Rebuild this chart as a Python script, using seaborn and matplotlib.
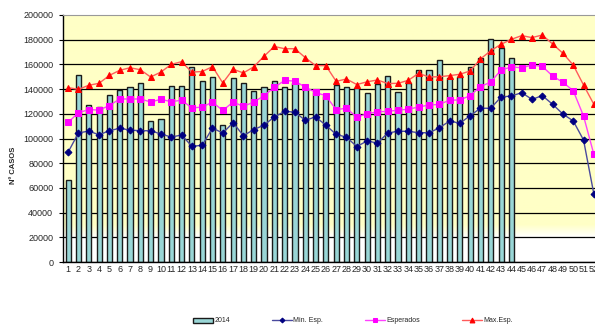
import numpy as np
import pandas as pd
import matplotlib
matplotlib.use('Agg')
import matplotlib.pyplot as plt
import seaborn as sns
from matplotlib.colors import LinearSegmentedColormap

# weekly values
weeks = list(range(1, 53))
cases_2014 = [66000, 151500, 127000, 125500, 135500, 139600, 141500, 144700, 114500, 115500,
              142500, 142500, 157800, 146500, 150000, 111000, 148700, 144700, 138200, 141300,
              146800, 141400, 145000, 139800, 137500, 134300, 143000, 141400, 141100, 136500,
              144000, 150800, 137500, 145000, 155800, 155800, 163500, 149000, 150200, 157800,
              165000, 180300, 173000, 165000]
min_esp = [89000, 104500, 106000, 103000, 106300, 108300, 106800, 106300, 106300, 103600,
           101200, 102800, 93800, 94400, 108500, 104400, 112800, 102300, 107200, 110800,
           117500, 121900, 121400, 114700, 117500, 110800, 103300, 101100, 93500, 98000,
           96300, 104400, 105900, 105800, 104700, 104700, 108500, 114200, 112300, 118500,
           124500, 124500, 133600, 134400, 137100, 131700, 134700, 127700, 119800, 114200,
           98800, 55100]
esperados = [113100, 120900, 123400, 123000, 126700, 132000, 132000, 132000, 129600, 131700,
             129800, 131000, 124800, 125400, 129500, 122700, 129500, 126000, 129500, 134600,
             141400, 147000, 146500, 141600, 137300, 134600, 123300, 124600, 117200, 120000,
             121700, 121900, 123000, 123700, 125500, 127100, 127600, 131000, 131200, 134700,
             142000, 145700, 155500, 157900, 157300, 159500, 158400, 150600, 145500, 138700,
             118200, 87200]
max_esp = [141200, 139800, 143100, 144700, 151100, 155200, 157300, 155700, 149800, 153800,
           160000, 162200, 153800, 154200, 158200, 145000, 156100, 153100, 158000, 166600,
           174500, 172700, 172700, 165500, 159000, 159000, 146300, 148200, 143700, 145900,
           147400, 144500, 144700, 147100, 152800, 149800, 150000, 150900, 152000, 154700,
           164400, 171100, 176300, 180300, 183300, 181700, 183800, 176500, 169000, 159500,
           143300, 127700]
y_ticks = list(range(0, 200001, 20000))

bars = pd.DataFrame({'semana': weeks[:len(cases_2014)], 'casos': cases_2014})
lines = pd.DataFrame({'semana': weeks, 'min': min_esp, 'esp': esperados, 'max': max_esp})

sns.set_style('white')
plt.rcParams['font.family'] = ['Liberation Sans', 'DejaVu Sans']

fig = plt.figure(figsize=(5.95, 3.26), dpi=100)
ax = fig.add_axes([63 / 595, 64 / 326, 536 / 595, 247 / 326])

# yellow to white background gradient
cmap = LinearSegmentedColormap.from_list('bg', [(0, '#ffffff'), (0.1, '#ffffff'),
                                                (0.15, '#ffffc6'), (1, '#ffffc6')])
grad = np.linspace(0, 1, 256).reshape(-1, 1)
ax.imshow(grad, extent=[0, 1, 0, 1], transform=ax.transAxes, origin='lower',
          cmap=cmap, aspect='auto', zorder=0)

sns.barplot(data=bars, x='semana', y='casos', native_scale=True, width=0.5,
            color='#99d6d6', saturation=1, edgecolor='#1a1a1a', linewidth=1,
            errorbar=None, label='2014', ax=ax, zorder=2)

sns.lineplot(data=lines, x='semana', y='min', color='#4a4a9e', lw=1, marker='D',
             markersize=3.5, markerfacecolor='#000080', markeredgecolor='#000080',
             label='Min. Esp.', ax=ax, zorder=3)
sns.lineplot(data=lines, x='semana', y='esp', color='#ff40ff', lw=1, marker='s',
             markersize=5, markerfacecolor='#ff00ff', markeredgecolor='#ff00ff',
             label='Esperados', ax=ax, zorder=3)
sns.lineplot(data=lines, x='semana', y='max', color='#ff5a5a', lw=1, marker='^',
             markersize=5, markerfacecolor='#ff0000', markeredgecolor='#ff0000',
             label='Max.Esp.', ax=ax, zorder=3)

if ax.get_legend():
    ax.get_legend().remove()

ax.set_xlim(0.5, 52.5)
ax.set_ylim(0, 200000)
ax.set_yticks(y_ticks)
ax.set_yticklabels([str(v) for v in y_ticks], fontsize=6.5)
ax.set_xticks(weeks)
ax.set_xticklabels([str(w) for w in weeks], fontsize=6.5)
ax.set_xticks(np.arange(0.5, 53, 1), minor=True)
ax.tick_params(axis='x', which='major', length=0, pad=2)
ax.tick_params(axis='x', which='minor', length=3, width=0.8, direction='out', color='black')
ax.tick_params(axis='y', length=3, width=0.8, direction='out', color='black', pad=4, left=True)
ax.set_xlabel('')
ax.set_ylabel('')

ax.yaxis.grid(True, color='black', lw=0.9)
ax.set_axisbelow(True)
ax.get_ygridlines()[-1].set_visible(False)
for s in ['left', 'bottom']:
    ax.spines[s].set_color('black')
    ax.spines[s].set_linewidth(1)
ax.spines['top'].set_color('#999999')
ax.spines['right'].set_color('#999999')

fig.text(14 / 595, 1 - 165 / 326, 'Nº CASOS', rotation=90, fontsize=5.5,
         fontweight='bold', ha='center', va='center')

handles, labels = ax.get_legend_handles_labels()
order = ['2014', 'Min. Esp.', 'Esperados', 'Max.Esp.']
hl = dict(zip(labels, handles))
fig.legend([hl[k] for k in order], order, loc='center left',
           bbox_to_anchor=(193 / 595, 1 - 321 / 326), ncol=4, frameon=False,
           fontsize=5, handlelength=2.9, handletextpad=0.2, columnspacing=6,
           borderpad=0, borderaxespad=0, markerscale=0.7, numpoints=1)

fig.savefig('out.png', dpi=100)
